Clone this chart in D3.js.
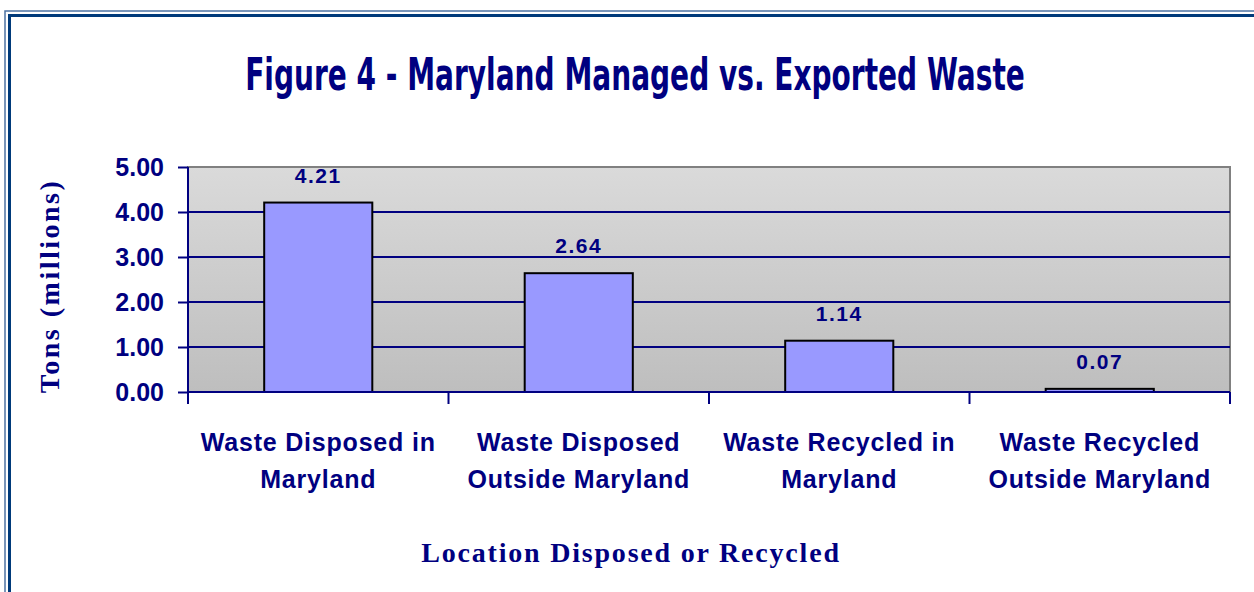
<!DOCTYPE html>
<html lang="en">
<head>
  <meta charset="UTF-8">
  <title>Figure 4 - Maryland Managed vs. Exported Waste</title>
  <script src="https://d3js.org/d3.v7.min.js"></script>
  <style>
      body {
          margin: 0;
          padding: 0;
          overflow: hidden;
          background: #fff;
      }
      svg {
          display: block;
      }
  </style>
</head>
<body>
  <svg width="1254" height="592"></svg>
  <script>
      // Chart data
      const categories = [
          ["Waste Disposed in", "Maryland"],
          ["Waste Disposed", "Outside Maryland"],
          ["Waste Recycled in", "Maryland"],
          ["Waste Recycled", "Outside Maryland"]
      ];
      const values = [4.21, 2.64, 1.14, 0.07];
      const yTicks = [0, 1, 2, 3, 4, 5];

      const navy = "#000080";
      const svg = d3.select("svg");

      // Double frame round the chart (runs off the right and bottom edges)
      svg.append("rect")
          .attr("x", 5).attr("y", 11)
          .attr("width", 1300).attr("height", 700)
          .attr("fill", "none")
          .attr("stroke", "#4d73a3")
          .attr("stroke-width", 1.5);
      svg.append("rect")
          .attr("x", 9.5).attr("y", 15.5)
          .attr("width", 1300).attr("height", 700)
          .attr("fill", "none")
          .attr("stroke", "#003a7a")
          .attr("stroke-width", 3);

      const margin = { left: 188, top: 167, right: 1230, bottom: 392 };

      const x = d3.scaleBand()
          .domain(d3.range(categories.length))
          .range([margin.left, margin.right])
          .paddingInner(0.585)
          .paddingOuter(0.2925);

      const xOuter = d3.scaleBand()
          .domain(d3.range(categories.length))
          .range([margin.left, margin.right]);

      const y = d3.scaleLinear()
          .domain([0, 5])
          .range([margin.bottom, margin.top]);

      // Plot area gradient
      const defs = svg.append("defs");
      const grad = defs.append("linearGradient")
          .attr("id", "plotBg")
          .attr("x1", 0).attr("y1", 0).attr("x2", 0).attr("y2", 1);
      grad.append("stop").attr("offset", "0%").attr("stop-color", "#dadada");
      grad.append("stop").attr("offset", "100%").attr("stop-color", "#bebebe");

      svg.append("rect")
          .attr("x", margin.left)
          .attr("y", margin.top)
          .attr("width", margin.right - margin.left)
          .attr("height", margin.bottom - margin.top)
          .attr("fill", "url(#plotBg)")
          .attr("stroke", "#808080")
          .attr("stroke-width", 2);

      // Gridlines
      svg.append("g")
          .selectAll("line")
          .data(yTicks.filter(d => d > 0 && d < 5))
          .join("line")
          .attr("x1", margin.left).attr("x2", margin.right)
          .attr("y1", d => y(d)).attr("y2", d => y(d))
          .attr("stroke", navy)
          .attr("stroke-width", 2);

      // Bars
      svg.append("g")
          .selectAll("rect")
          .data(values)
          .join("rect")
          .attr("x", (d, i) => x(i))
          .attr("y", d => y(d))
          .attr("width", x.bandwidth())
          .attr("height", d => y(0) - y(d))
          .attr("fill", "#9999ff")
          .attr("stroke", "#000")
          .attr("stroke-width", 2);

      // Value labels
      svg.append("g")
          .selectAll("text")
          .data(values)
          .join("text")
          .attr("x", (d, i) => x(i) + x.bandwidth() / 2)
          .attr("y", d => y(d) - 20)
          .attr("text-anchor", "middle")
          .attr("font-family", "Liberation Sans, Arial, sans-serif")
          .attr("font-weight", "bold")
          .attr("font-size", "21px")
          .attr("letter-spacing", "1.5px")
          .attr("fill", navy)
          .text(d => d.toFixed(2));

      // Y axis
      const yAxis = svg.append("g")
          .attr("transform", `translate(${margin.left},0)`)
          .call(d3.axisLeft(y).tickValues(yTicks).tickFormat(d3.format(".2f")).tickSize(10).tickPadding(14));
      yAxis.select(".domain").attr("stroke", navy).attr("stroke-width", 2).attr("d", `M0,${margin.top}V${margin.bottom + 12}`);
      yAxis.selectAll(".tick line").attr("stroke", navy).attr("stroke-width", 2);
      yAxis.selectAll(".tick text")
          .attr("fill", navy)
          .attr("font-family", "Liberation Sans, Arial, sans-serif")
          .attr("font-weight", "bold")
          .attr("font-size", "25px");

      // X axis line with ticks at category boundaries
      svg.append("line")
          .attr("x1", margin.left).attr("x2", margin.right)
          .attr("y1", margin.bottom).attr("y2", margin.bottom)
          .attr("stroke", navy).attr("stroke-width", 2);
      svg.append("g")
          .selectAll("line")
          .data(d3.range(categories.length + 1))
          .join("line")
          .attr("x1", i => margin.left + i * xOuter.step())
          .attr("x2", i => margin.left + i * xOuter.step())
          .attr("y1", margin.bottom)
          .attr("y2", margin.bottom + 12)
          .attr("stroke", navy).attr("stroke-width", 2);

      // Category labels
      const catLabels = svg.append("g")
          .selectAll("text")
          .data(categories)
          .join("text")
          .attr("x", (d, i) => xOuter(i) + xOuter.bandwidth() / 2)
          .attr("y", 451)
          .attr("text-anchor", "middle")
          .attr("font-family", "Liberation Sans, Arial, sans-serif")
          .attr("font-weight", "bold")
          .attr("font-size", "25px")
          .attr("letter-spacing", "0.8px")
          .attr("fill", navy);
      catLabels.selectAll("tspan")
          .data(d => d)
          .join("tspan")
          .attr("x", function() { return d3.select(this.parentNode).attr("x"); })
          .attr("dy", (d, i) => i === 0 ? 0 : 37)
          .text(d => d);

      // Title: tall bold face squeezed horizontally to span about 780px
      const title = svg.append("text")
          .attr("x", 0)
          .attr("y", 0)
          .attr("text-anchor", "middle")
          .attr("font-family", "DejaVu Sans, sans-serif")
          .attr("font-weight", "bold")
          .attr("font-size", "44px")
          .attr("fill", navy)
          .text("Figure 4 - Maryland Managed vs. Exported Waste");
      const tw = title.node().getComputedTextLength();
      title.attr("transform", `translate(635,90) scale(${(780 / tw).toFixed(4)},1)`);

      // Axis titles
      svg.append("text")
          .attr("x", 631)
          .attr("y", 562)
          .attr("text-anchor", "middle")
          .attr("font-family", "Liberation Serif, Times New Roman, serif")
          .attr("font-weight", "bold")
          .attr("font-size", "28px")
          .attr("letter-spacing", "1.8px")
          .attr("fill", navy)
          .text("Location Disposed or Recycled");

      svg.append("text")
          .attr("transform", "translate(59,286) rotate(-90)")
          .attr("text-anchor", "middle")
          .attr("font-family", "Liberation Serif, Times New Roman, serif")
          .attr("font-weight", "bold")
          .attr("font-size", "28px")
          .attr("letter-spacing", "2.5px")
          .attr("fill", navy)
          .text("Tons (millions)");
  </script>
</body>
</html>
